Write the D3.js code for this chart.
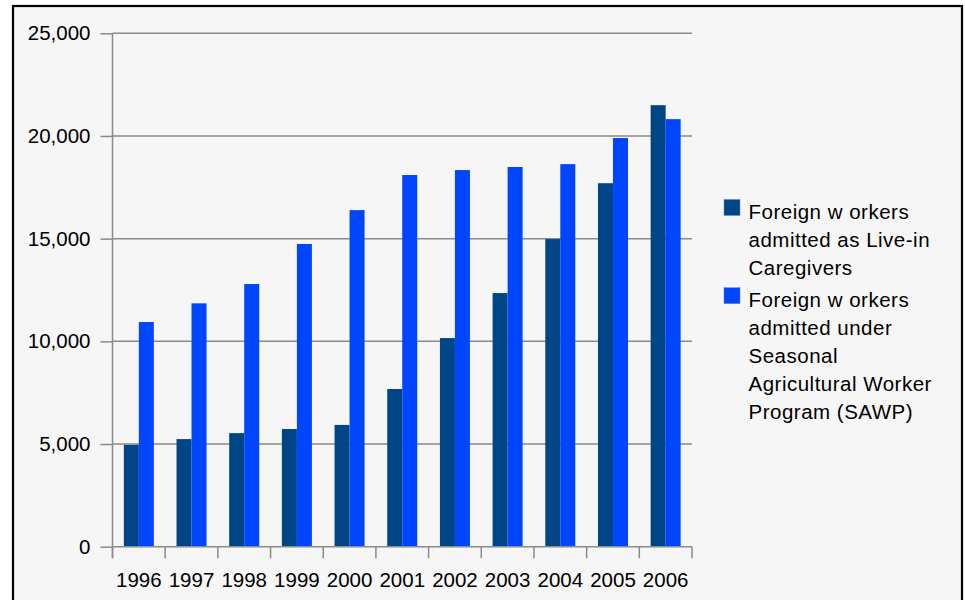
<!DOCTYPE html>
<html>
<head>
<meta charset="utf-8">
<script src="https://cdn.jsdelivr.net/npm/d3@7"></script>
<style>
  body { margin: 0; background: #fff; }
  svg { display: block; font-family: "Liberation Sans", Arial, sans-serif; }
</style>
</head>
<body>
<script>
// data
var years = ["1996", "1997", "1998", "1999", "2000", "2001", "2002", "2003", "2004", "2005", "2006"];
var caregivers = [4960, 5240, 5530, 5730, 5930, 7680, 10160, 12350, 14980, 17700, 21500];
var sawp = [10940, 11850, 12790, 14740, 16390, 18100, 18340, 18490, 18630, 19900, 20820];
var seriesNames = ["caregivers", "sawp"];
var seriesColors = ["#004586", "#0046ff"];
var legendLabels = [
    ["Foreign w orkers", "admitted as Live-in", "Caregivers"],
    ["Foreign w orkers", "admitted under", "Seasonal", "Agricultural Worker", "Program (SAWP)"]
];
var yTicks = [0, 5000, 10000, 15000, 20000, 25000];

var W = 965, H = 600;
var plotLeft = 112.5, plotRight = 692, plotTop = 33.3, plotBottom = 546.7;
var fontSize = 20.5;

var svg = d3.select("body").append("svg")
    .attr("width", W)
    .attr("height", H);

// frame
svg.append("rect")
    .attr("x", 13).attr("y", 6)
    .attr("width", 949).attr("height", 610)
    .attr("fill", "#f6f6f6")
    .attr("stroke", "#000")
    .attr("stroke-width", 2.2);

var x = d3.scaleBand().domain(years).range([plotLeft, plotRight]).padding(0);
var bw = x.bandwidth();
var xs = d3.scaleBand().domain(seriesNames).range([0, bw]).paddingInner(0).paddingOuter(0.756);
var y = d3.scaleLinear().domain([0, 25000]).range([plotBottom, plotTop]);
var color = d3.scaleOrdinal().domain(seriesNames).range(seriesColors);

// grid lines
svg.append("g").selectAll("line")
    .data(yTicks.filter(d => d > 0))
    .enter().append("line")
    .attr("x1", plotLeft).attr("x2", plotRight)
    .attr("y1", d => y(d)).attr("y2", d => y(d))
    .attr("stroke", "#8a8a8a")
    .attr("stroke-width", 1.5);

// y axis
var yAxis = d3.axisLeft(y)
    .tickValues(yTicks)
    .tickSizeInner(12)
    .tickSizeOuter(0)
    .tickPadding(10)
    .tickFormat(d3.format(","));
var gy = svg.append("g")
    .attr("transform", "translate(" + plotLeft + ",0)")
    .call(yAxis);
gy.select(".domain").remove();
gy.selectAll(".tick line").attr("stroke", "#8a8a8a").attr("stroke-width", 1.5);
gy.selectAll(".tick text").attr("font-size", fontSize).attr("fill", "#000")
    .attr("font-family", "Liberation Sans, Arial, sans-serif");

// bars
var rows = years.map((yr, i) => ({year: yr, values: [
    {key: "caregivers", value: caregivers[i]},
    {key: "sawp", value: sawp[i]}
]}));
svg.append("g").selectAll("g")
    .data(rows)
    .enter().append("g")
    .attr("transform", d => "translate(" + x(d.year) + ",0)")
    .selectAll("rect")
    .data(d => d.values)
    .enter().append("rect")
    .attr("x", d => xs(d.key))
    .attr("width", xs.bandwidth())
    .attr("y", d => y(d.value))
    .attr("height", d => y(0) - y(d.value))
    .attr("fill", d => color(d.key));

// axis lines
svg.append("line")
    .attr("x1", plotLeft).attr("x2", plotLeft)
    .attr("y1", plotTop).attr("y2", plotBottom + 11.5)
    .attr("stroke", "#8a8a8a").attr("stroke-width", 1.5);
svg.append("line")
    .attr("x1", plotLeft).attr("x2", plotRight)
    .attr("y1", plotBottom).attr("y2", plotBottom)
    .attr("stroke", "#8a8a8a").attr("stroke-width", 1.5);

// x ticks at category boundaries
var bounds = years.map(d => x(d)).concat([plotRight]);
svg.append("g").selectAll("line")
    .data(bounds)
    .enter().append("line")
    .attr("x1", d => d).attr("x2", d => d)
    .attr("y1", plotBottom).attr("y2", plotBottom + 11.5)
    .attr("stroke", "#8a8a8a").attr("stroke-width", 1.5);

// x labels
svg.append("g").selectAll("text")
    .data(years)
    .enter().append("text")
    .attr("x", d => x(d) + bw / 2)
    .attr("y", 586.5)
    .attr("text-anchor", "middle")
    .attr("font-size", fontSize)
    .attr("fill", "#000")
    .text(d => d);

// legend
var legendTop = [199.5, 287.7];
var legend = svg.append("g").selectAll("g")
    .data(seriesNames)
    .enter().append("g")
    .attr("transform", (d, i) => "translate(724," + legendTop[i] + ")");
legend.append("rect")
    .attr("width", 16).attr("height", 16)
    .attr("fill", d => color(d))
    .attr("stroke", "#6a8ab0")
    .attr("stroke-width", 0.5);
legend.append("text")
    .attr("x", 24.5)
    .attr("font-size", fontSize)
    .attr("letter-spacing", 0.5)
    .attr("fill", "#000")
    .selectAll("tspan")
    .data((d, i) => legendLabels[i])
    .enter().append("tspan")
    .attr("x", 24.5)
    .attr("y", (d, j) => 19.5 + j * 28)
    .text(d => d);
</script>
</body>
</html>
